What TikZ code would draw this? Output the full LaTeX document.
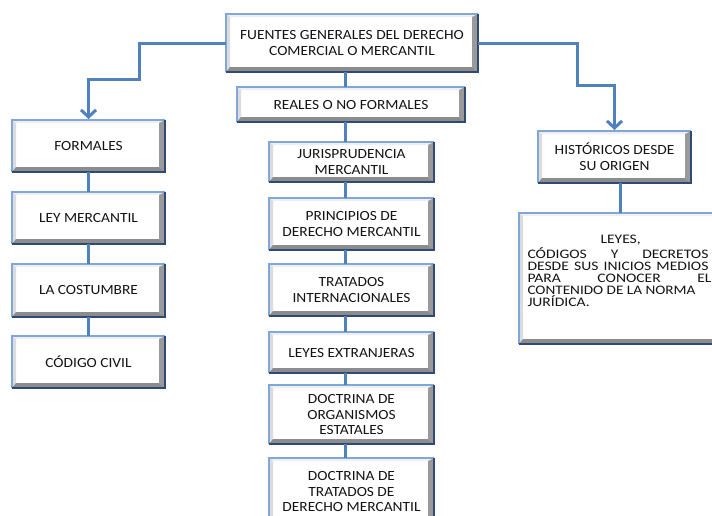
\documentclass[tikz,border=0pt]{standalone}
\usepackage{fontspec}
\usepackage{graphicx}
\setmainfont{Carlito}[FakeStretch=1.1]
\newfontfamily\widefont{Carlito}[FakeStretch=1.2]
\usetikzlibrary{arrows.meta,calc}
\definecolor{lineblue}{HTML}{4F81BD}
\definecolor{edgelight}{HTML}{7FA7D9}
\definecolor{edgedark}{HTML}{2E4A75}
\definecolor{bevtop}{HTML}{EFEFEF}
\definecolor{bevleft}{HTML}{DCDCDC}
\definecolor{bevright}{HTML}{9A9A9A}
\definecolor{bevbottom}{HTML}{8C8C8C}
\definecolor{txt}{HTML}{141414}
\newcommand\bevel[1]{%
  \fill[bevtop] (#1.north west) -- (#1.north east) -- ($(#1.north east)+(-6,3)$) -- ($(#1.north west)+(4,3)$) -- cycle;
  \fill[bevleft] (#1.north west) -- ($(#1.north west)+(4,3)$) -- ($(#1.south west)+(4,-5)$) -- (#1.south west) -- cycle;
  \fill[bevright] (#1.north east) -- (#1.south east) -- ($(#1.south east)+(-6,-5)$) -- ($(#1.north east)+(-6,3)$) -- cycle;
  \fill[bevbottom] (#1.south west) -- (#1.south east) -- ($(#1.south east)+(-6,-5)$) -- ($(#1.south west)+(4,-5)$) -- cycle;
  \draw[edgelight,line width=1.6pt] (#1.south west) -- (#1.north west) -- (#1.north east);
  \draw[edgedark,line width=1.6pt] (#1.north east) -- (#1.south east) -- (#1.south west);
}
\newcommand\bline[1]{\makebox[185pt][l]{#1}}
\tikzset{
  boxnode/.style={fill=white, draw=none, inner sep=0pt, outer sep=0pt, align=center, text=txt,
    font=\fontsize{14}{15.7}\selectfont},
  conn/.style={draw=lineblue, line width=3pt},
  arrowc/.style={-{Straight Barb[length=7pt,width=15pt]}, shorten >=1pt},
}
\begin{document}
\begin{tikzpicture}[x=1pt,y=-1pt]
\useasboundingbox (0,0) rectangle (712,515);
\clip (0,0) rectangle (712,515);
\fill[white] (0,0) rectangle (712,515);

% nodes
\node[boxnode, minimum width=252, minimum height=58] (top) at (352,43) {FUENTES GENERALES DEL DERECHO\\COMERCIAL O MERCANTIL};
\node[boxnode, minimum width=228, minimum height=35] (reales) at (351,104.5) {REALES O NO FORMALES};

\node[boxnode, minimum width=153, minimum height=52] (formales) at (88.5,146) {FORMALES};
\node[boxnode, minimum width=153, minimum height=52] (ley) at (88.5,218) {LEY MERCANTIL};
\node[boxnode, minimum width=153, minimum height=53] (cost) at (88.5,290.5) {LA COSTUMBRE};
\node[boxnode, minimum width=153, minimum height=52] (codigo) at (88.5,362) {CÓDIGO CIVIL};

\node[boxnode, minimum width=165, minimum height=40] (juris) at (351.5,162) {JURISPRUDENCIA\\MERCANTIL};
\node[boxnode, minimum width=165, minimum height=52] (princ) at (351.5,224) {PRINCIPIOS DE\\DERECHO MERCANTIL};
\node[boxnode, minimum width=165, minimum height=52] (trat) at (351.5,290) {TRATADOS\\INTERNACIONALES};
\node[boxnode, minimum width=165, minimum height=41] (leyes) at (351.5,352.5) {LEYES EXTRANJERAS};
\node[boxnode, minimum width=165, minimum height=59] (docorg) at (351.5,414.5) {DOCTRINA DE\\ORGANISMOS\\ESTATALES};
\node[boxnode, minimum width=165, minimum height=67] (doctrat) at (351.5,491.5) {DOCTRINA DE\\TRATADOS DE\\DERECHO MERCANTIL};

\node[boxnode, minimum width=153, minimum height=52] (hist) at (614.5,157) {HISTÓRICOS DESDE\\SU ORIGEN};
\node[boxnode, minimum width=202, minimum height=131, align=left,
      font=\widefont\fontsize{13}{12.2}\selectfont] (big) at (620,278.5) {%
\bline{\hspace{73pt}LEYES,}\\[1pt]
\bline{\makebox[181pt][s]{CÓDIGOS Y DECRETOS}}\\
\bline{\makebox[181pt][s]{DESDE SUS INICIOS MEDIOS}}\\
\bline{\makebox[184pt][s]{PARA CONOCER EL}}\\
\bline{\resizebox{168pt}{\height}{CONTENIDO DE LA NORMA}}\\
\bline{JURÍDICA.}\\[2.8pt]\mbox{}};

\foreach \n in {top,reales,formales,ley,cost,codigo,juris,princ,trat,leyes,docorg,doctrat,hist,big} {\bevel{\n}}

% coordinates for connectors
\coordinate (mc) at (345,0);
\coordinate (rc) at (620,0);
\coordinate (lb1) at (139,43);
\coordinate (lb2) at (139,79);
\coordinate (rb1) at (577,43);
\coordinate (rb2) at (577,85);

% elbow arrows
\draw[conn,arrowc] (top.west) -- (lb1) -- (lb2) -- (lb2 -| formales.north) -- (formales.north);
\draw[conn,arrowc] (top.east) -- (rb1) -- (rb2) -- (rb2 -| hist.north) -- (hist.north);

% middle column
\draw[conn] (top.south -| mc) -- (reales.north -| mc);
\draw[conn] (reales.south -| mc) -- (juris.north -| mc);
\draw[conn] (juris.south -| mc) -- (princ.north -| mc);
\draw[conn] (princ.south -| mc) -- (trat.north -| mc);
\draw[conn] (trat.south -| mc) -- (leyes.north -| mc);
\draw[conn] (leyes.south -| mc) -- (docorg.north -| mc);
\draw[conn] (docorg.south -| mc) -- (doctrat.north -| mc);

% left column
\draw[conn] (formales.south) -- (ley.north);
\draw[conn] (ley.south) -- (cost.north);
\draw[conn] (cost.south) -- (codigo.north);

% right column
\draw[conn] (hist.south -| rc) -- (big.north -| rc);
\end{tikzpicture}
\end{document}
